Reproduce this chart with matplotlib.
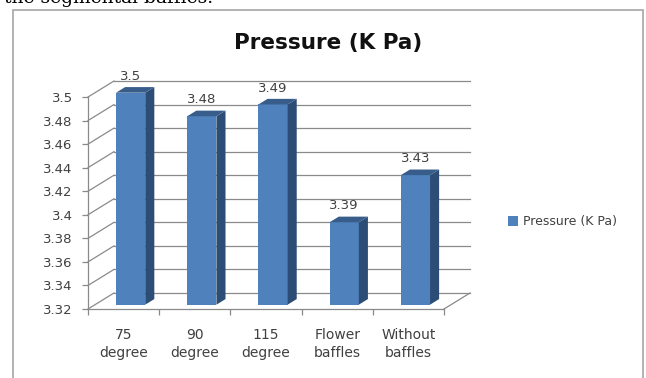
import matplotlib
matplotlib.use("Agg")
import matplotlib.pyplot as plt
from matplotlib.patches import Polygon, Rectangle
import numpy as np

categories = ["75\ndegree", "90\ndegree", "115\ndegree", "Flower\nbaffles", "Without\nbaffles"]
pressure = [3.50, 3.48, 3.49, 3.39, 3.43]
value_labels = ["3.5", "3.48", "3.49", "3.39", "3.43"]
yticks = [3.32, 3.34, 3.36, 3.38, 3.40, 3.42, 3.44, 3.46, 3.48, 3.50]
ytick_labels = ["3.32", "3.34", "3.36", "3.38", "3.4", "3.42", "3.44", "3.46", "3.48", "3.5"]
series_name = "Pressure (K Pa)"
title = "Pressure (K Pa)"
caption = "the segmental baffles."

W, H = 646, 378
fig = plt.figure(figsize=(W / 100, H / 100), dpi=100)

front_c, side_c, top_c = "#4F81BD", "#2C4D75", "#385D8A"
grid_c, text_c = "#8A8A8A", "#404040"

# depth of the 3d walls, in data units
DX, DY = 0.365, 0.0136
Y0, Y1 = yticks[0], yticks[-1]

ax = fig.add_axes([88 / W, 1 - 309 / H, (470 - 88) / W, (309 - 81) / H])
ax.set_xlim(-0.5, 4.5 + DX)
ax.set_ylim(Y0, Y1 + DY)
ax.patch.set_visible(False)

# back wall grid + side wall diagonals
for v in yticks:
    ax.plot([-0.5 + DX, 4.5 + DX], [v + DY, v + DY], color=grid_c, lw=0.9, clip_on=False, zorder=1)
    ax.plot([-0.5, -0.5 + DX], [v, v + DY], color=grid_c, lw=0.9, clip_on=False, zorder=1)
ax.plot([4.5, 4.5 + DX], [Y0, Y0 + DY], color=grid_c, lw=0.9, clip_on=False, zorder=1)

for s in ["top", "right"]:
    ax.spines[s].set_visible(False)
ax.spines["left"].set_bounds(Y0, Y1)
ax.spines["bottom"].set_bounds(-0.5, 4.5)
for s in ["left", "bottom"]:
    ax.spines[s].set_color(grid_c)
    ax.spines[s].set_linewidth(0.9)

ax.set_yticks(yticks, ytick_labels)
ax.tick_params(axis="y", length=4, width=0.9, color=grid_c, labelcolor=text_c,
               labelsize=9.5, pad=7)
x = np.arange(len(categories))
ax.set_xticks(x, categories)
ax.set_xticks(np.arange(-0.5, 5), minor=True)
ax.tick_params(axis="x", which="major", length=0, labelcolor=text_c, labelsize=10, pad=14)
ax.tick_params(axis="x", which="minor", length=4, width=0.9, color=grid_c)
for t in ax.get_xticklabels():
    t.set_linespacing(1.35)

# 3d bars
bw, f0, fd = 0.41, 0.27, 0.35
vals = np.array(pressure)
xc = x + f0 * DX
ax.bar(xc, vals - Y0, bottom=Y0 + f0 * DY, width=bw, color=front_c,
       label=series_name, zorder=3)
for xi, v, lab in zip(xc, vals, value_labels):
    xl, xr = xi - bw / 2, xi + bw / 2
    yb, yt = Y0 + f0 * DY, v + f0 * DY
    side = [(xr, yb), (xr + fd * DX, yb + fd * DY), (xr + fd * DX, yt + fd * DY), (xr, yt)]
    top = [(xl, yt), (xr, yt), (xr + fd * DX, yt + fd * DY), (xl + fd * DX, yt + fd * DY)]
    ax.add_patch(Polygon(side, closed=True, fc=side_c, ec="none", zorder=3, clip_on=False))
    ax.add_patch(Polygon(top, closed=True, fc=top_c, ec="none", zorder=3, clip_on=False))
    ax.annotate(lab, xy=(xi, yt + fd * DY), xytext=(0, 3), textcoords="offset points",
                ha="center", va="bottom", fontsize=9.5, color=text_c, annotation_clip=False)

fig.text(328 / W, 1 - 43 / H, title, ha="center", va="center",
         fontsize=15.5, fontweight="bold", color="#111111")

fig.legend(loc="center left", bbox_to_anchor=(508 / W, 1 - 222 / H), frameon=False,
           fontsize=9, handlelength=0.8, handleheight=0.8, handletextpad=0.4,
           borderpad=0, borderaxespad=0, labelcolor=text_c)

# chart frame and the cropped line of text above it
fig.add_artist(Rectangle((12.5 / W, -0.1), 630 / W, 1 - 10 / H + 0.1,
                         transform=fig.transFigure, fill=False, ec="#A6A6A6", lw=1.2))
fig.text(4 / W, 1 - 3 / H, caption, family="DejaVu Serif", fontsize=13.5,
         va="baseline", ha="left", color="black")

fig.savefig("out.png", dpi=100)
